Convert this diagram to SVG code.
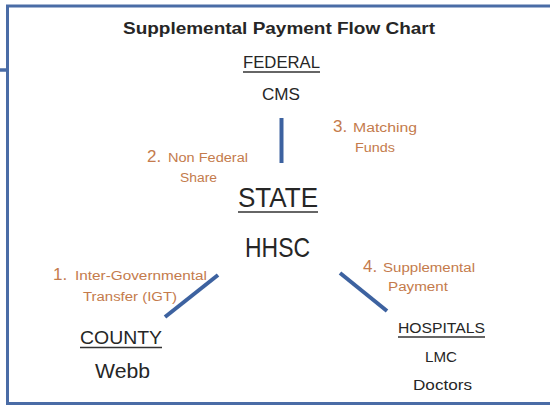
<svg xmlns="http://www.w3.org/2000/svg" width="550" height="409" viewBox="0 0 550 409">
<style>
.t{font-family:"Liberation Sans",Arial,sans-serif;fill:#262626}
.lb{font-family:"Liberation Sans",Arial,sans-serif;fill:#c47b4c;font-size:12.5px}
.num{font-size:17px}
.ul{stroke:#333;stroke-width:1.6}
.conn{stroke:#3d62a0;stroke-width:4;stroke-linecap:butt}
.frame{fill:none;stroke:#4a6ca6;stroke-width:3}
</style>
<rect width="550" height="409" fill="#ffffff"/>
<g id="frame">
<path class="frame" d="M560,6 H7.5 V403.5 H560"/>
<line x1="0" y1="70" x2="7" y2="70" stroke="#4a6ca6" stroke-width="3.5"/>
</g>
<text id="title" class="t" x="123" y="34" font-size="16" font-weight="bold" textLength="312" lengthAdjust="spacingAndGlyphs">Supplemental Payment Flow Chart</text>
<g id="federal">
<text class="t" x="243" y="68" font-size="17" textLength="77" lengthAdjust="spacingAndGlyphs">FEDERAL</text>
<line class="ul" x1="243" y1="72" x2="320" y2="72"/>
<text class="t" x="262" y="100" font-size="17" textLength="38" lengthAdjust="spacingAndGlyphs">CMS</text>
</g>
<g id="state">
<text class="t" x="238" y="207" font-size="28" textLength="80" lengthAdjust="spacingAndGlyphs">STATE</text>
<line class="ul" x1="238" y1="212" x2="318" y2="212" stroke-width="2"/>
<text class="t" x="245" y="257" font-size="28" textLength="65" lengthAdjust="spacingAndGlyphs">HHSC</text>
</g>
<g id="county">
<text class="t" x="80" y="344" font-size="19" textLength="82" lengthAdjust="spacingAndGlyphs">COUNTY</text>
<line class="ul" x1="80" y1="347.5" x2="162" y2="347.5"/>
<text class="t" x="95" y="378" font-size="20" textLength="55" lengthAdjust="spacingAndGlyphs">Webb</text>
</g>
<g id="hospitals">
<text class="t" x="398" y="333" font-size="15" textLength="87" lengthAdjust="spacingAndGlyphs">HOSPITALS</text>
<line class="ul" x1="398" y1="337" x2="485" y2="337"/>
<text class="t" x="425" y="362" font-size="15" textLength="32" lengthAdjust="spacingAndGlyphs">LMC</text>
<text class="t" x="413" y="390" font-size="15" textLength="59" lengthAdjust="spacingAndGlyphs">Doctors</text>
</g>
<g id="connectors">
<line class="conn" x1="281.5" y1="118" x2="281.5" y2="163"/>
<line class="conn" x1="218" y1="275" x2="165" y2="317"/>
<line class="conn" x1="340" y1="273" x2="387" y2="311"/>
<text class="lb" y="280"><tspan class="num" x="53">1.</tspan><tspan x="75" textLength="132" lengthAdjust="spacingAndGlyphs">Inter-Governmental</tspan></text>
<text class="lb" x="83" y="301" textLength="94" lengthAdjust="spacingAndGlyphs">Transfer (IGT)</text>
<text class="lb" y="162"><tspan class="num" x="147">2.</tspan><tspan x="168" textLength="80" lengthAdjust="spacingAndGlyphs">Non Federal</tspan></text>
<text class="lb" x="180" y="182" textLength="37" lengthAdjust="spacingAndGlyphs">Share</text>
<text class="lb" y="132"><tspan class="num" x="333">3.</tspan><tspan x="353" textLength="64" lengthAdjust="spacingAndGlyphs">Matching</tspan></text>
<text class="lb" x="355" y="152" textLength="40" lengthAdjust="spacingAndGlyphs">Funds</text>
<text class="lb" y="272"><tspan class="num" x="363">4.</tspan><tspan x="383" textLength="92" lengthAdjust="spacingAndGlyphs">Supplemental</tspan></text>
<text class="lb" x="388" y="291" textLength="60" lengthAdjust="spacingAndGlyphs">Payment</text>
</g>
</svg>
